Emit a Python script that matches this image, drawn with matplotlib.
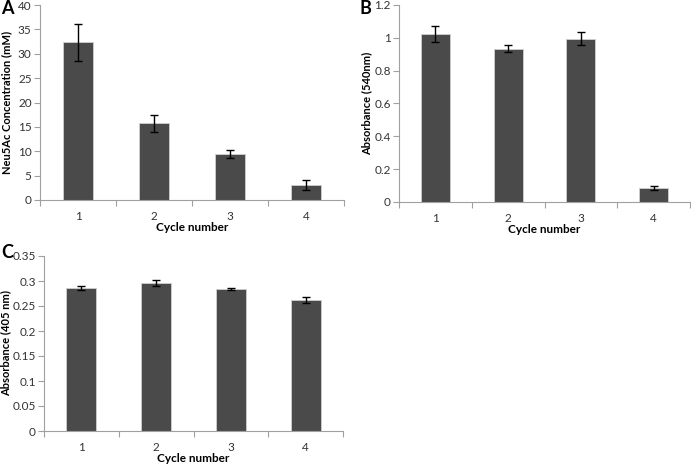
import matplotlib
matplotlib.use("Agg")
import matplotlib.pyplot as plt
import numpy as np

plt.rcParams['font.family'] = ['Lato', 'DejaVu Sans']

cycles = ["1", "2", "3", "4"]

neu5ac_vals = [32.4, 15.7, 9.5, 3.1]
neu5ac_err = [3.8, 1.8, 0.8, 1.0]

abs540_vals = [1.025, 0.935, 0.995, 0.085]
abs540_err = [0.05, 0.02, 0.04, 0.01]

abs405_vals = [0.287, 0.297, 0.285, 0.263]
abs405_err = [0.004, 0.006, 0.002, 0.006]

a_ticks = [0, 5, 10, 15, 20, 25, 30, 35, 40]
b_ticks = [0, 0.2, 0.4, 0.6, 0.8, 1, 1.2]
b_ticklabels = ["0", "0.2", "0.4", "0.6", "0.8", "1", "1.2"]
c_ticks = [0, 0.05, 0.1, 0.15, 0.2, 0.25, 0.3, 0.35]
c_ticklabels = ["0", "0.05", "0.1", "0.15", "0.2", "0.25", "0.3", "0.35"]

W, H = 691, 467
fig = plt.figure(figsize=(W / 100, H / 100), dpi=100)

bar_color = "#4a4a4a"
axis_color = "#a0a0a0"
text_color = "#333333"


def make_panel(rect_px, vals, errs, yticks, yticklabels, ylabel, letter, letter_xy, ylabel_x):
    left, top, right, bottom = rect_px
    ax = fig.add_axes([left / W, 1 - bottom / H, (right - left) / W, (bottom - top) / H])
    x = np.arange(len(cycles))
    ax.bar(x, vals, width=0.4, color=bar_color, edgecolor="#d0d0d0", linewidth=0.6, zorder=2)
    ax.errorbar(x, vals, yerr=errs, fmt="none", ecolor="black", elinewidth=1.0,
                capsize=3, capthick=1.0, zorder=3)
    ax.set_xlim(-0.5, len(cycles) - 0.5)
    ax.set_ylim(yticks[0], yticks[-1])
    ax.set_yticks(yticks)
    ax.set_yticklabels(yticklabels if yticklabels else [str(t) for t in yticks])
    ax.set_xticks(x)
    ax.set_xticklabels(cycles)
    ax.set_xticks(np.arange(len(cycles) + 1) - 0.5, minor=True)
    ax.tick_params(axis="x", which="major", length=0, pad=8, labelsize=8.5, labelcolor=text_color)
    ax.tick_params(axis="x", which="minor", length=4, direction="out", color=axis_color, width=0.8)
    ax.tick_params(axis="y", length=4, direction="out", color=axis_color, width=0.8,
                   labelsize=8.5, labelcolor=text_color, pad=2)
    for s in ["top", "right"]:
        ax.spines[s].set_visible(False)
    for s in ["left", "bottom"]:
        ax.spines[s].set_color(axis_color)
        ax.spines[s].set_linewidth(0.8)
    ax.set_xlabel("Cycle number", fontsize=8.5, fontweight="bold", color="black", labelpad=0)
    ax.set_ylabel(ylabel, fontsize=8, fontweight="bold", color="black")
    ax.yaxis.label.set_va("center")
    ax.yaxis.set_label_coords((ylabel_x - left) / (right - left), 0.5)
    fig.text(letter_xy[0] / W, 1 - letter_xy[1] / H, letter, fontsize=13, fontweight="bold",
             ha="left", va="center")
    return ax


make_panel((40, 5, 344, 200), neu5ac_vals, neu5ac_err,
           a_ticks, None, "Neu5Ac Concentration (mM)", "A", (1, 9), 7)
make_panel((399, 5, 690, 202), abs540_vals, abs540_err,
           b_ticks, b_ticklabels, "Absorbance (540nm)", "B", (359, 9), 367)
make_panel((44, 256, 343, 431), abs405_vals, abs405_err,
           c_ticks, c_ticklabels, "Absorbance (405 nm)", "C", (1, 253), 6)

fig.savefig("out.png", dpi=100)
